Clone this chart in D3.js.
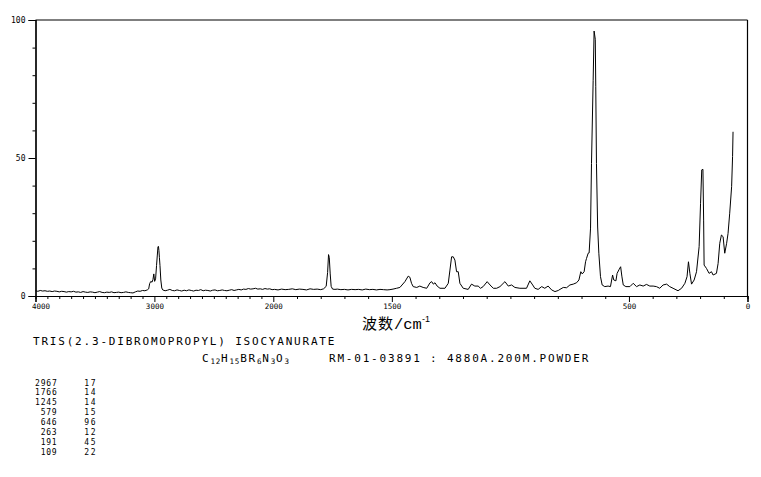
<!DOCTYPE html>
<html>
<head>
<meta charset="utf-8">
<script src="https://cdn.jsdelivr.net/npm/d3@7"></script>
<style>
  html, body { margin: 0; padding: 0; background: #fff; }
  svg { display: block; }
</style>
</head>
<body>
<svg id="chart" width="761" height="477"></svg>
<script>
// ---- data ----
const wavenumbers = [
  4000,3980,3960,3940,3920,3900,3880,3860,3840,3820,3800,3780,3760,3740,3720,3700,3680,3660,3640,3620,
  3600,3580,3560,3540,3520,3500,3480,3460,3440,3420,3400,3380,3360,3340,3320,3300,3280,3260,3240,3220,
  3200,3180,3160,3140,3120,3100,3080,3060,
  3048,3040,3030,3020,3012,3005,2998,2990,2982,2976,2970,2966,2962,2958,2953,2946,2938,
  2930,2910,2890,2870,2850,2830,2810,2790,2770,2750,2730,2710,2690,2670,2650,2630,2610,2590,2570,2550,
  2530,2510,2490,2470,2450,2430,2410,2390,2370,2350,2330,2310,2290,2270,2250,2230,2210,2190,2170,2150,
  2130,2110,2090,2070,2050,2030,2010,
  1995,1980,1965,1950,1935,1920,1905,1890,1875,1860,1845,1830,1815,1800,1788,
  1777,1771,1767,1764,1760,1756,1750,
  1740,1730,1715,1700,1685,1670,1655,1640,1625,1610,1595,1580,1565,1550,1535,1520,1508,1495,1480,
  1466,1445,1431,1424,1417,1410,1395,1382,1368,1353,1339,1332,1325,1318,1309,1297,1276,
  1262,1255,1248,1241,1234,1227,1220,1213,1199,1178,1164,1150,1136,1126,1115,1098,1086,1072,1058,
  1044,1023,1009,995,981,960,932,918,906,897,883,868,855,841,826,812,798,791,777,763,749,735,721,
  711,703,697,689,683,679,672,668,662,658,651,647,642,640,637,632,627,620,613,602,588,578,
  569,564,555,550,541,535,530,524,513,496,482,468,454,440,426,412,398,384,370,356,341,328,314,
  293,278,264,255,249,243,236,225,215,204,198,193,188,185,183,173,162,152,145,131,124,117,110,
  103,96,88,82,75,67,63,61
];
const intensities = [
  1.9,1.7,2.0,1.8,1.9,1.7,1.8,1.6,1.8,1.7,1.5,1.7,1.6,1.4,1.6,1.5,1.7,1.4,1.5,1.3,
  1.6,1.4,1.3,1.5,1.4,1.2,1.4,1.6,1.3,1.2,1.4,1.3,1.5,1.2,1.3,1.4,1.2,1.3,1.5,1.3,
  1.2,1.1,1.5,1.8,1.7,2.0,1.9,2.2,
  2.6,4.5,5.3,5.0,6.0,8.0,5.3,6.2,11.0,14.5,17.8,18.0,16.5,14.0,11.0,5.8,2.9,
  2.2,1.9,2.1,2.4,2.0,1.9,2.2,2.0,1.8,2.1,1.9,2.2,2.0,1.8,2.1,2.0,2.3,1.9,2.1,2.0,
  1.8,2.1,2.2,1.9,2.0,2.2,2.0,1.9,2.1,2.3,2.0,2.2,2.4,2.2,2.5,2.4,2.7,2.5,2.6,2.8,
  2.5,2.6,2.4,2.7,2.5,2.6,2.3,
  2.4,2.2,2.5,2.3,2.4,2.6,2.3,2.5,2.4,2.2,2.6,2.4,2.5,2.3,2.6,
  3.5,8.5,15.0,14.0,8.0,3.5,2.5,
  2.4,2.5,2.3,2.4,2.2,2.4,2.3,2.4,2.2,2.5,2.3,2.4,2.2,2.4,2.3,2.2,2.3,2.5,2.8,
  3.1,5.2,7.2,6.8,4.6,3.4,3.1,3.6,3.1,2.8,4.8,5.2,4.3,4.8,3.6,2.8,2.8,
  4.6,9.4,14.2,14.2,13.0,8.8,8.8,4.6,2.8,2.4,4.3,3.6,3.6,2.8,3.4,5.2,4.0,2.8,2.8,
  3.4,5.2,3.6,4.0,3.1,2.8,2.8,5.5,4.0,2.8,2.4,3.4,2.8,3.6,2.2,1.6,2.0,2.4,3.1,3.0,4.0,4.3,4.8,
  5.8,8.8,8.0,8.8,12.4,13.6,15.5,15.6,24.6,48.0,78.0,96.0,93.0,76.0,48.0,25.0,15.5,7.0,4.0,3.4,3.6,3.4,
  7.6,5.8,5.5,8.2,9.7,10.6,7.2,4.0,3.4,3.4,4.6,3.4,4.0,3.6,4.2,3.6,3.6,3.4,2.8,4.0,4.3,3.4,2.8,
  1.9,2.8,4.6,7.0,12.4,8.2,4.3,5.8,8.8,17.9,33.6,45.7,45.9,27.5,11.2,10.0,8.2,8.8,7.6,8.2,11.8,19.1,22.1,
  21.5,15.5,19.1,22.7,30.0,39.6,50.5,59.5
];
const xTickValues = [4000, 3000, 2000, 1500, 500, 0];
const xTickLabels = ["4000", "3000", "2000", "1500", "500", "0"];
const yTickValues = [0, 50, 100];
const yTickLabels = ["0", "50", "100"];
const peakPositions = ["2967", "1766", "1245", "579", "646", "263", "191", "109"];
const peakIntensities = ["17", "14", "14", "15", "96", "12", "45", "22"];
const compoundName = "TRIS(2.3-DIBROMOPROPYL) ISOCYANURATE";
const formulaParts = [["C", false], ["12", true], ["H", false], ["15", true], ["BR", false], ["6", true],
                      ["N", false], ["3", true], ["O", false], ["3", true]];
const sampleInfo = "RM-01-03891 : 4880A.200M.POWDER";

// ---- drawing ----
(function draw() {
  const svg = d3.select("#chart");
  svg.append("rect").attr("width", 761).attr("height", 477).attr("fill", "#fff");

  const pLeft = 35.5, pRight = 747.5, pTop = 20, pBottom = 296;
  const x = d3.scaleLinear().domain([4000, 2000, 0]).range([pLeft, 273.3, pRight]);
  const y = d3.scaleLinear().domain([0, 100]).range([pBottom, pTop]);

  const mono = "'DejaVu Sans Mono', 'Liberation Mono', monospace";

  // frame
  const frame = svg.append("g").attr("stroke", "#000").attr("stroke-width", 1.2).attr("fill", "none");
  frame.append("line").attr("x1", pLeft).attr("x2", pRight).attr("y1", pTop).attr("y2", pTop);
  frame.append("line").attr("x1", pRight).attr("x2", pRight).attr("y1", pTop).attr("y2", pBottom);

  // x axis
  const minorX = d3.range(0, 4001, 100).filter(v => !xTickValues.includes(v));
  const xAxisMinor = d3.axisBottom(x).tickValues(minorX).tickSize(3).tickFormat("");
  const xAxisMajor = d3.axisBottom(x).tickValues(xTickValues).tickSize(6)
    .tickFormat((d, i) => xTickLabels[i]).tickPadding(1.5);
  const gxm = svg.append("g").attr("transform", `translate(0,${pBottom})`).call(xAxisMinor);
  const gx = svg.append("g").attr("transform", `translate(0,${pBottom})`).call(xAxisMajor);
  [gxm, gx].forEach(g => {
    g.select(".domain").attr("stroke", "#000").attr("stroke-width", 1.2);
    g.selectAll(".tick line").attr("stroke", "#000").attr("stroke-width", 1);
  });
  gx.selectAll(".tick text").attr("font-family", mono).attr("font-size", 7.5).attr("fill", "#000")
    .attr("dx", d => d === 4000 ? 5 : 0);

  // y axis
  const minorY = d3.range(0, 101, 10).filter(v => !yTickValues.includes(v));
  const yAxisMinor = d3.axisLeft(y).tickValues(minorY).tickSize(3).tickFormat("");
  const yAxisMajor = d3.axisLeft(y).tickValues(yTickValues).tickSize(7)
    .tickFormat((d, i) => yTickLabels[i]).tickPadding(3);
  const gym = svg.append("g").attr("transform", `translate(${pLeft},0)`).call(yAxisMinor);
  const gy = svg.append("g").attr("transform", `translate(${pLeft},0)`).call(yAxisMajor);
  [gym, gy].forEach(g => {
    g.select(".domain").attr("stroke", "#000").attr("stroke-width", 1.2);
    g.selectAll(".tick line").attr("stroke", "#000").attr("stroke-width", 1);
  });
  gy.selectAll(".tick text").attr("font-family", mono).attr("font-size", 8).attr("fill", "#000");

  // spectrum
  const data = wavenumbers.map((w, i) => ({ w, v: intensities[i] }));
  svg.append("path")
    .datum(data)
    .attr("fill", "none")
    .attr("stroke", "#000")
    .attr("stroke-width", 1)
    .attr("d", d3.line().x(d => x(d.w)).y(d => y(d.v)));

  // axis title
  const title = svg.append("text").attr("x", 362).attr("y", 328.5).attr("fill", "#000");
  title.append("tspan").attr("font-family", "'Noto Sans CJK SC', sans-serif").attr("font-size", 15)
    .attr("letter-spacing", 1).text("波数");
  title.append("tspan").attr("font-family", "'Liberation Mono', monospace").attr("font-size", 15.5).text("/cm");
  title.append("tspan").attr("font-family", "'Liberation Sans', sans-serif").attr("font-size", 9)
    .attr("dy", -7).text("-1");

  // compound text
  svg.append("text").attr("x", 33).attr("y", 344.5)
    .attr("font-family", mono).attr("font-size", 11).attr("letter-spacing", 1.8)
    .attr("fill", "#000").text(compoundName);

  const formula = svg.append("text").attr("x", 202).attr("y", 361.5)
    .attr("font-family", mono).attr("fill", "#000");
  formulaParts.forEach(([t, sub]) => {
    formula.append("tspan")
      .attr("font-size", sub ? 7.5 : 11)
      .attr("letter-spacing", sub ? 0.8 : 1.8)
      .attr("baseline-shift", sub ? "-2" : "0")
      .text(t);
  });
  svg.append("text").attr("x", 329).attr("y", 361.5)
    .attr("font-family", mono).attr("font-size", 11).attr("letter-spacing", 1.8)
    .attr("fill", "#000").text(sampleInfo);

  // peak table
  const table = svg.append("g").attr("font-family", mono).attr("font-size", 8).attr("fill", "#000");
  peakPositions.forEach((p, i) => {
    const yy = 385.5 + i * 9.86;
    table.append("text").attr("x", 57.5).attr("y", yy).attr("text-anchor", "end")
      .attr("letter-spacing", 0.8).text(p);
    table.append("text").attr("x", 97).attr("y", yy).attr("text-anchor", "end")
      .attr("letter-spacing", 1.5).text(peakIntensities[i]);
  });
})();
</script>
</body>
</html>
